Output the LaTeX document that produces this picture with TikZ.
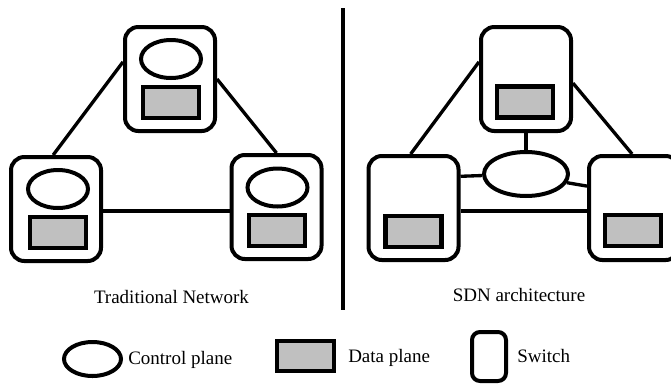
\documentclass[tikz,border=0pt]{standalone}
\usepackage{fontspec}
\setmainfont{Liberation Serif}
\usetikzlibrary{shapes.geometric}
\definecolor{dpgray}{RGB}{192,192,192}
\tikzset{
  sw/.style={draw, line width=3pt, rounded corners=10pt, minimum width=67.5pt, minimum height=78pt, inner sep=0pt},
  cp/.style={draw, ellipse, line width=3pt, minimum width=45pt, minimum height=28.5pt, inner sep=0pt},
  dp/.style={draw, line width=3.5pt, fill=dpgray, minimum width=42pt, minimum height=23.25pt, inner sep=0pt},
  link/.style={line width=2.5pt},
  lbl/.style={font=\fontsize{14.25pt}{17pt}\selectfont, inner sep=0pt}
}
\begin{document}
\begin{tikzpicture}[x=0.75pt, y=-0.75pt]
\useasboundingbox (0,0) rectangle (671,386);
\clip (0,0) rectangle (671,386);

% ---------- Traditional network ----------
\node[sw] (ts1) at (170,79) {};
\node[cp] (ts1c) at (171,59) {};
\node[dp] (ts1d) at (171,102.5) {};

\node[sw] (ls1) at (56,209) {};
\node[cp] (ls1c) at (58,189) {};
\node[dp] (ls1d) at (58,232.5) {};

\node[sw] (rs1) at (276.5,207) {};
\node[cp] (rs1c) at (277.5,187.5) {};
\node[dp] (rs1d) at (277,230.5) {};

\draw[link] (ls1.93) -- (ts1.160);
\draw[link] (ts1.east) -- (rs1.north);
\draw[link] ([yshift=-1.5pt]ls1.east) -- ([yshift=-3pt]rs1.west);

\node[lbl, anchor=base] (t1) at (171.5,303) {Traditional Network};

% ---------- divider ----------
\coordinate (dtop) at (343,8);
\coordinate (dbot) at (343,310);
\draw[line width=3pt] (dtop) -- (dbot);

% ---------- SDN architecture ----------
\node[sw] (ts2) at (526,79) {};
\node[dp] (ts2d) at (525,102) {};

\node[sw] (ls2) at (413.5,208) {};
\node[dp] (ls2d) at (413.5,231.5) {};

\node[sw] (rs2) at (634,208) {};
\node[dp] (rs2d) at (633,230.5) {};

\node[cp, minimum width=63pt, minimum height=33pt] (ctl) at (526,174) {};

\draw[link] (ls2.93) -- (ts2.160);
\draw[link] (ts2.-5) -- (rs2.92);
\draw[link] (ts2.south) -- (ctl.north);
\draw[link] (ls2.34) -- (ctl.182);
\draw[link] (ctl.-12) -- (rs2.155);
\draw[link] ([yshift=-2.25pt]ls2.east) -- ([yshift=-2.25pt]rs2.west);

\node[lbl, anchor=base] (t2) at (519,301) {SDN architecture};

% ---------- legend ----------
\node[cp, minimum width=42.75pt, minimum height=25.5pt] (lcp) at (92.5,359) {};
\node[lbl, anchor=base west] (lcpt) at (128,364) {Control plane};
\node[dp, minimum width=42.75pt, minimum height=22.5pt] (ldp) at (305.5,356) {};
\node[lbl, anchor=base west] (ldpt) at (348,362) {Data plane};
\node[sw, minimum width=25.5pt, minimum height=36.75pt, rounded corners=6pt] (lsw) at (489,356.5) {};
\node[lbl, anchor=base west] (lswt) at (517,362) {Switch};
\end{tikzpicture}
\end{document}
